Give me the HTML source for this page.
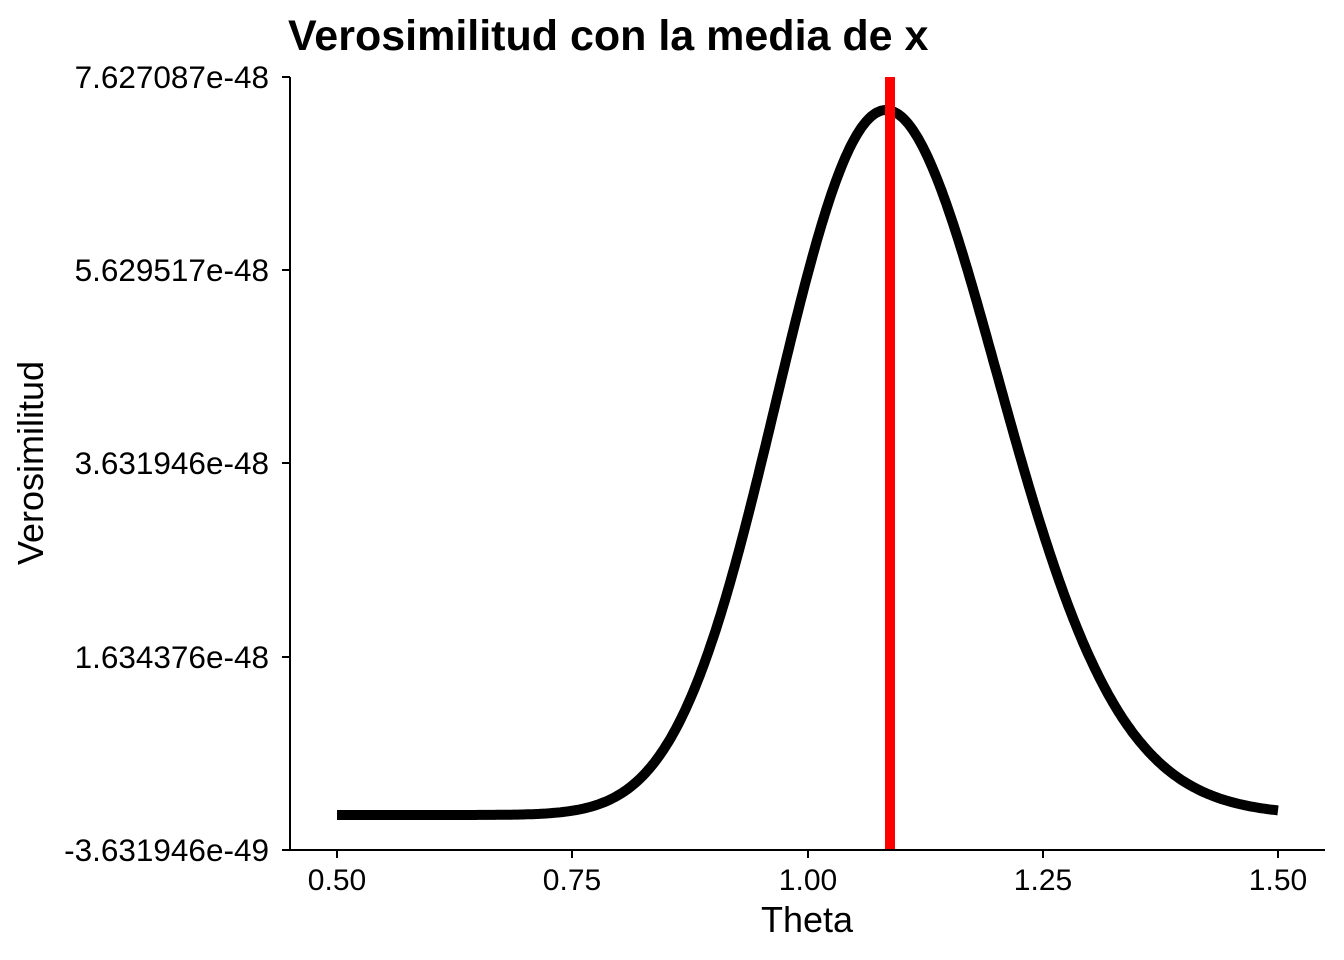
<!DOCTYPE html>
<html><head><meta charset="utf-8"><style>
body{margin:0;background:#fff;}
svg{display:block;font-family:"Liberation Sans",Arial,sans-serif;}
</style></head><body>
<svg id="s" width="1344" height="960" xmlns="http://www.w3.org/2000/svg">
<text x="288" y="50" font-size="43" font-weight="bold">Verosimilitud con la media de x</text>
<path id="curve" fill="none" stroke="#000" stroke-width="10" stroke-linejoin="round"/>
<line x1="890" y1="77" x2="890" y2="850" stroke="#ff0000" stroke-width="10"/>
<line x1="290" y1="77" x2="290" y2="851" stroke="#000" stroke-width="2"/>
<line x1="289" y1="850" x2="1325" y2="850" stroke="#000" stroke-width="2"/>
<g stroke="#000" stroke-width="2">
<line x1="282" y1="77" x2="290" y2="77"/><line x1="282" y1="270" x2="290" y2="270"/>
<line x1="282" y1="463" x2="290" y2="463"/><line x1="282" y1="657" x2="290" y2="657"/>
<line x1="282" y1="850" x2="290" y2="850"/>
<line x1="337" y1="850" x2="337" y2="858"/><line x1="572" y1="850" x2="572" y2="858"/>
<line x1="808" y1="850" x2="808" y2="858"/><line x1="1043" y1="850" x2="1043" y2="858"/>
<line x1="1278" y1="850" x2="1278" y2="858"/>
</g>
<g font-size="31.5" text-anchor="end" fill="#000">
<text x="269" y="88">7.627087e-48</text><text x="269" y="281">5.629517e-48</text>
<text x="269" y="474">3.631946e-48</text><text x="269" y="668">1.634376e-48</text>
<text x="269" y="861">-3.631946e-49</text>
</g>
<g font-size="30" text-anchor="middle" fill="#000">
<text x="337" y="890">0.50</text><text x="572" y="890">0.75</text><text x="808" y="890">1.00</text>
<text x="1043" y="890">1.25</text><text x="1278" y="890">1.50</text>
</g>
<text x="807" y="932" font-size="36" text-anchor="middle">Theta</text>
<text transform="translate(43,463) rotate(-90)" font-size="36" text-anchor="middle">Verosimilitud</text>
</svg>
<script>
var n=85,th=1.0835,d="";
for(var i=0;i<=400;i++){var t=0.5+i/400;var r=t/th;var v=Math.exp(n*(Math.log(r)-r+1));
var x=337+(t-0.5)*941,y=815-v*705;d+=(i?"L":"M")+x.toFixed(1)+","+y.toFixed(1);}
document.getElementById("curve").setAttribute("d",d);
</script>
</body></html>
